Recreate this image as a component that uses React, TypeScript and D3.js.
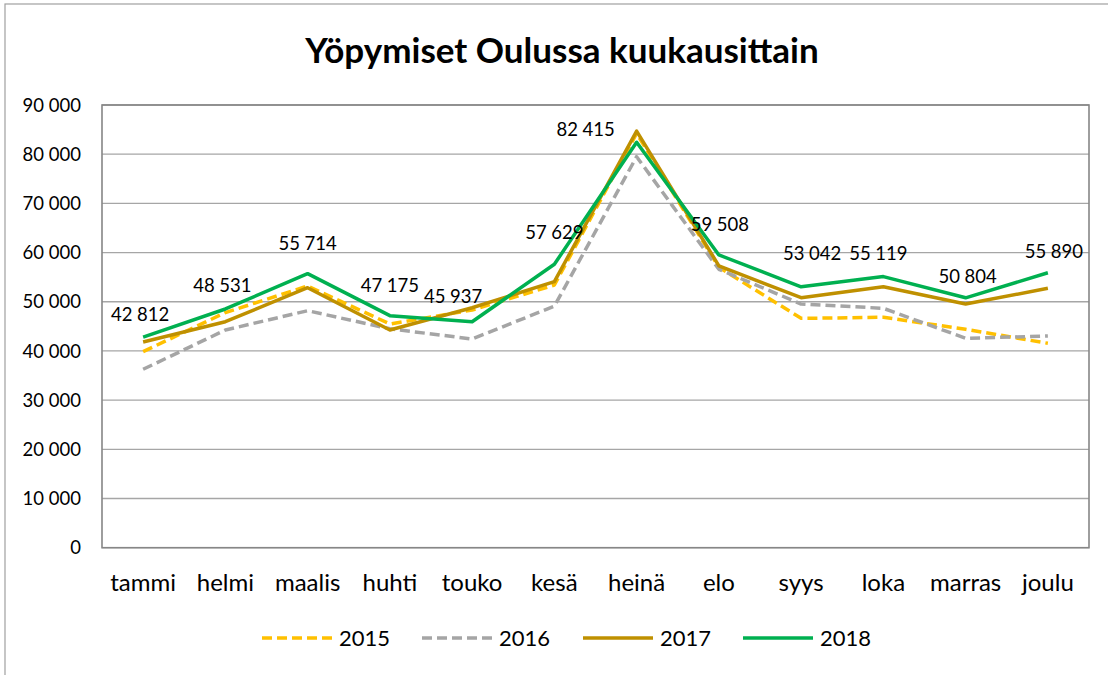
import React from "react";
import * as d3 from "d3";

const months = ["tammi", "helmi", "maalis", "huhti", "touko", "kesä", "heinä", "elo", "syys", "loka", "marras", "joulu"];
const years = ["2015", "2016", "2017", "2018"];
const v2015 = [39850, 47800, 53200, 45480, 48320, 53400, 84200, 57000, 46630, 46840, 44400, 41550];
const v2016 = [36270, 44260, 48180, 44500, 42430, 49100, 79490, 56600, 49540, 48670, 42570, 43040];
const v2017 = [41820, 45950, 52860, 44260, 48790, 54080, 84700, 57300, 50830, 53060, 49540, 52730];
const v2018 = [42812, 48531, 55714, 47175, 45937, 57629, 82415, 59508, 53042, 55119, 50804, 55890];
const yTicks = [0, 10000, 20000, 30000, 40000, 50000, 60000, 70000, 80000, 90000];
const title = "Yöpymiset Oulussa kuukausittain";

const seriesValues = [v2015, v2016, v2017, v2018];
const colors = ["#FFC000", "#A5A5A5", "#BF9000", "#00B050"];
const dashes = ["10 5", "10 5", null, null];
// label offsets (dx, dy of baseline) relative to each 2018 point
const labelOffsets: [number, number][] = [
  [-3, -16], [-3, -17], [0, -24], [0, -24], [-19, -19], [0, -25],
  [-51, -6], [1, -24], [11, -27], [-5, -17], [2, -15], [6, -15],
];
const legendX = [262, 422, 583, 743];

const FONT = "Lato, 'Open Sans', sans-serif";

const loc = d3.formatLocale({ thousands: " ", grouping: [3], decimal: ",", currency: ["", ""] });
const fmt = loc.format(",");

export default function App() {
  const left = 102, right = 1089, top = 105, bottom = 547.7;
  const x = d3.scaleBand<string>().domain(months).range([left, right]);
  const y = d3.scaleLinear().domain([0, 90000]).range([bottom, top]);
  const cx = (m: string) => (x(m) as number) + x.bandwidth() / 2;
  const line = d3
    .line<number>()
    .x((_, i) => cx(months[i]))
    .y((d) => y(d));

  return (
    <svg
      width={1108}
      height={675}
      style={{ position: "absolute", left: 0, top: 0, background: "#fff" }}
      fontFamily={FONT}
    >
      <rect x={0} y={0} width={1108} height={675} fill="#fff" />
      <rect x={5} y={4} width={1110} height={690} fill="none" stroke="#A0A0A0" strokeWidth={1.2} />
      <text x={562} y={63} textAnchor="middle" fontSize={35} fontWeight={700} fill="#000">
        {title}
      </text>
      {yTicks.map((t) => (
        <g key={t}>
          <line x1={left} x2={right} y1={y(t)} y2={y(t)} stroke="#A6A6A6" strokeWidth={1.3} />
          <text x={81} y={y(t)} dy="0.36em" textAnchor="end" fontSize={18.5} fill="#000">
            {fmt(t)}
          </text>
        </g>
      ))}
      <rect x={left} y={top} width={right - left} height={bottom - top} fill="none" stroke="#868686" strokeWidth={1.6} />
      {months.map((m) => (
        <text key={m} x={cx(m)} y={591} textAnchor="middle" fontSize={24} fill="#000">
          {m}
        </text>
      ))}
      {seriesValues.map((vals, si) => (
        <path
          key={years[si]}
          d={line(vals) as string}
          fill="none"
          stroke={colors[si]}
          strokeWidth={3.5}
          strokeLinejoin="round"
          strokeDasharray={dashes[si] ?? undefined}
        />
      ))}
      {v2018.map((v, i) => (
        <text
          key={i}
          x={cx(months[i]) + labelOffsets[i][0]}
          y={y(v) + labelOffsets[i][1]}
          textAnchor="middle"
          fontSize={18.5}
          fill="#000"
        >
          {fmt(v)}
        </text>
      ))}
      {years.map((yr, i) => (
        <g key={yr}>
          <line
            x1={legendX[i]}
            x2={legendX[i] + 70}
            y1={638}
            y2={638}
            stroke={colors[i]}
            strokeWidth={3.5}
            strokeDasharray={dashes[i] ?? undefined}
          />
          <text x={legendX[i] + 77} y={646} fontSize={22} fill="#000">
            {yr}
          </text>
        </g>
      ))}
    </svg>
  );
}
